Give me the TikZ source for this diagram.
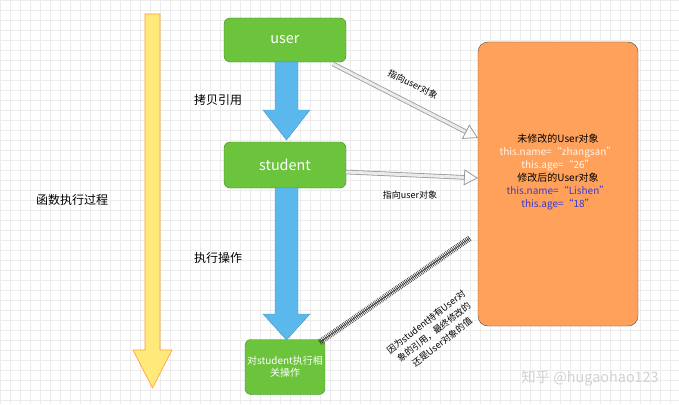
\documentclass[tikz,border=0pt]{standalone}
\usepackage{fontspec}
\setmainfont{Liberation Sans}
\newfontfamily\cjk{Noto Sans CJK SC}
\usetikzlibrary{arrows.meta,decorations.pathreplacing,decorations.markings}
\definecolor{grn}{HTML}{6CC33C}
\definecolor{grnd}{HTML}{3E8A1E}
\definecolor{org}{HTML}{FFA15A}
\definecolor{blu}{HTML}{5BB8EC}
\definecolor{yel}{HTML}{FFE97A}
\definecolor{txtblue}{HTML}{3A3AD0}
\begin{document}
\begin{tikzpicture}[x=1pt,y=-1pt,
  gbox/.style={draw=grnd,fill=grn,rounded corners=6pt,text=white,align=center,font=\cjk},
  lbl/.style={font=\cjk},
  ptr/.style={double=white!92!black,draw=gray!80,double distance=3pt,line width=0.8pt,-{Triangle[open,length=14pt,width=16pt]}},
  barr/.style={fill=blu,draw=blu!80!black,line width=0.4pt}]
\useasboundingbox (0,0) rectangle (679,404);
\fill[white] (0,0) rectangle (679,404);
\foreach \i in {0,10,...,400} \draw[gray!15,line width=0.4pt] (0,\i) -- (679,\i);
\foreach \i in {0,10,...,670} \draw[gray!15,line width=0.4pt] (\i,0) -- (\i,404);
% yellow arrow
\draw[fill=yel,draw=orange!80,line width=0.6pt] (145,14) -- (160,14) -- (160,350) -- (172,350) -- (152.5,388) -- (133,350) -- (145,350) -- cycle;
\node[lbl,font=\cjk\large] (proc) at (72,200) {函数执行过程};
% boxes
\node[gbox,minimum width=122pt,minimum height=44pt,font=\cjk\Large] (user) at (285,40) {user};
\node[gbox,minimum width=122pt,minimum height=46pt,font=\cjk\Large] (student) at (285,165) {student};
\node[gbox,minimum width=70pt,minimum height=55pt,font=\cjk,inner sep=2pt] (op) at (285,367) {对student执行相\\关操作};
\node[draw=black!70,fill=org,rounded corners=10pt,minimum width=160pt,minimum height=284pt] (obj) at (558,184) {};
% blue arrows
\draw[barr] (275,62) -- (298,62) -- (298,110) -- (310,110) -- (286.5,140) -- (263,110) -- (275,110) -- cycle;
\draw[barr] (275,188) -- (298,188) -- (298,314) -- (310,314) -- (286.5,340) -- (263,314) -- (275,314) -- cycle;
\node[lbl,font=\cjk\large] (copy) at (218,100) {拷贝引用};
\node[lbl,font=\cjk\large] (exec) at (218,258) {执行操作};
% object texts
\node[font=\cjk,align=center,inner sep=0] (t) at (558,172) {%
未修改的User对象\\[1pt]
{\color{white!92!orange}this.name=“zhangsan”}\\[1pt]
{\color{white!92!orange}this.age=“26”}\\[1pt]
修改后的User对象\\[1pt]
{\color{txtblue}this.name=“Lishen”}\\[1pt]
{\color{txtblue}this.age=“18”}};
% pointers
\coordinate (a1) at (333,64);
\coordinate (a2) at (478,138);
\draw[ptr] (a1) -- (a2);
\node[lbl,font=\cjk\small,rotate=-26] (l1) at (413,84) {指向user对象};
\coordinate (b1) at (346,172);
\coordinate (b2) at (478,178);
\draw[ptr] (b1) -- (b2);
\node[lbl,font=\cjk\small] (l2) at (410,195) {指向user对象};
% hatched line
\coordinate (c1) at (320,342);
\coordinate (c2) at (470,238);
\draw[black!80,line width=0.6pt,decorate,decoration={ticks,segment length=1.8pt,amplitude=3pt}] (c1) -- (c2);
\draw[black!80,line width=0.6pt] (c1) -- (c2);
\node[font=\cjk\small,rotate=38,align=center,inner sep=0] (l3) at (434,332) {因为student持有User对\\[2pt]象的引用，最终修改的\\[2pt]还是User对象的值};
% watermark
\node[text=gray!35,font=\cjk\Large] (wm) at (590,378) {知乎 @hugaohao123};
\end{tikzpicture}
\end{document}
